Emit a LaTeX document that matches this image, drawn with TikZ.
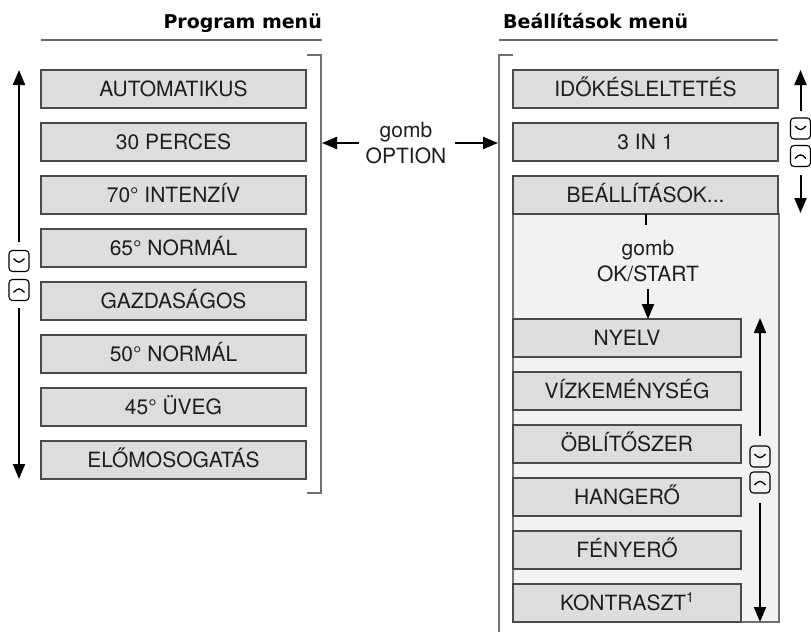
\documentclass[tikz,border=0pt]{standalone}
\usepackage{fontspec}
\setmainfont{TeX Gyre Heros}
\newfontfamily\titlefont{DejaVu Sans Bold}
\usetikzlibrary{arrows.meta}
\definecolor{boxfill}{HTML}{DCDDDF}
\definecolor{boxline}{HTML}{4A4A4A}
\definecolor{panelfill}{HTML}{F1F2F4}
\definecolor{panelline}{HTML}{707070}
\definecolor{rulecol}{HTML}{6A6A6A}
\definecolor{txt}{HTML}{1E1E1E}
\begin{document}
\begin{tikzpicture}[x=1pt,y=-1pt,
  menubox/.style={draw=boxline, fill=boxfill, line width=1.1pt, minimum width=265pt, minimum height=38pt,
    inner sep=0pt, outer sep=0pt, font=\fontsize{21}{25}\selectfont, text=txt, text height=15pt, text depth=0pt},
  innerbox/.style={menubox, minimum width=228pt},
  titletext/.style={font=\titlefont\fontsize{19}{22}\selectfont, inner sep=0pt, text=black},
  label/.style={font=\fontsize{21}{26}\selectfont, inner sep=0pt, text=txt, align=center},
  arr/.style={line width=2pt, draw=black, -{Triangle[length=15pt,width=12pt]}},
  tickline/.style={line width=2pt, draw=black},
  rulel/.style={draw=rulecol, line width=1.1pt},
  bracket/.style={draw=panelline, line width=1.7pt},
  icon/.style={draw=black, line width=1.1pt, rounded corners=3.5pt, minimum width=20pt, minimum height=21pt, inner sep=0pt},
  icondown/.style={icon, path picture={\draw[line width=1.3pt] ([xshift=-5.5pt,yshift=2.5pt]path picture bounding box.center) -- ++(5.5pt,-5pt) -- ++(5.5pt,5pt);}},
  iconup/.style={icon, path picture={\draw[line width=1.3pt] ([xshift=-5.5pt,yshift=-2.5pt]path picture bounding box.center) -- ++(5.5pt,5pt) -- ++(5.5pt,-5pt);}},
  panel/.style={draw=panelline, fill=panelfill, line width=1.1pt, minimum width=266pt, minimum height=408pt, inner sep=0pt, outer sep=0pt, anchor=north west}
]
\useasboundingbox (0,0) rectangle (811,632);

% titles and rules
\node[titletext, anchor=base east] (tprog) at (322,28) {Program menü};
\node[titletext, anchor=base west] (tbeal) at (503,28) {Beállítások menü};
\draw[rulel] (41,40) -- (322,40);
\draw[rulel] (499,40) -- (778,40);

% brackets
\draw[bracket] (307,55) -- (321,55) -- (321,493) -- (307,493);
\draw[bracket] (513,55) -- (499,55) -- (499,632);

% left menu
\node[menubox] (p1) at (173.5,89) {AUTOMATIKUS};
\node[menubox] (p2) at (173.5,142) {30 PERCES};
\node[menubox] (p3) at (173.5,195) {70° INTENZÍV};
\node[menubox] (p4) at (173.5,248) {65° NORMÁL};
\node[menubox] (p5) at (173.5,301) {GAZDASÁGOS};
\node[menubox] (p6) at (173.5,354) {50° NORMÁL};
\node[menubox] (p7) at (173.5,407) {45° ÜVEG};
\node[menubox] (p8) at (173.5,460) {ELŐMOSOGATÁS};

% left scroll arrows
\coordinate (ltop) at (19,70);
\coordinate (lbot) at (19,479);
\node[icondown] (ldn) at (19,261) {};
\node[iconup] (lup) at (19,290) {};
\draw[arr, shorten <=8pt] (ldn) -- (ltop);
\draw[arr, shorten <=7pt] (lup) -- (lbot);

% option button
\node[label] (opt) at (406,143) {gomb\\OPTION};
\coordinate (lbrk) at (322,143);
\coordinate (rbrk) at (498,143);
\draw[arr, shorten <=7pt] (opt) -- (lbrk);
\draw[arr, shorten <=9pt] (opt) -- (rbrk);

% right menu
\node[panel] (panel) at (513,214) {};
\node[menubox] (s1) at (645.5,89) {IDŐKÉSLELTETÉS};
\node[menubox] (s2) at (645.5,142) {3 IN 1};
\node[menubox] (s3) at (645.5,195) {BEÁLLÍTÁSOK...};

% right scroll arrows
\coordinate (rtop) at (800.5,70);
\coordinate (rbot) at (800.5,213);
\node[icondown] (rdn) at (800.5,128.5) {};
\node[iconup] (rup) at (800.5,156) {};
\draw[arr, shorten <=6pt] (rdn) -- (rtop);
\draw[arr, shorten <=8pt] (rup) -- (rbot);

% OK/START
\node[label] (ok) at (648,261) {gomb\\OK/START};
\draw[tickline] (s3.south) -- ++(0,11);

% settings submenu
\node[innerbox] (n1) at (627,338) {NYELV};
\node[innerbox] (n2) at (627,391) {VÍZKEMÉNYSÉG};
\node[innerbox] (n3) at (627,444) {ÖBLÍTŐSZER};
\node[innerbox] (n4) at (627,497) {HANGERŐ};
\node[innerbox] (n5) at (627,550) {FÉNYERŐ};
\node[innerbox] (n6) at (627,603) {KONTRASZT\raisebox{8.5pt}{\fontsize{14}{14}\selectfont 1}};

\draw[arr] ([yshift=-7pt]ok.south) -- (ok.south |- n1.north);

% inner scroll arrows
\coordinate (itop) at (760,318);
\coordinate (ibot) at (760,622);
\node[icondown] (idn) at (760,456.5) {};
\node[iconup] (iup) at (760,482.5) {};
\draw[arr, shorten <=9pt] (idn) -- (itop);
\draw[arr, shorten <=9pt] (iup) -- (ibot);
\end{tikzpicture}
\end{document}
